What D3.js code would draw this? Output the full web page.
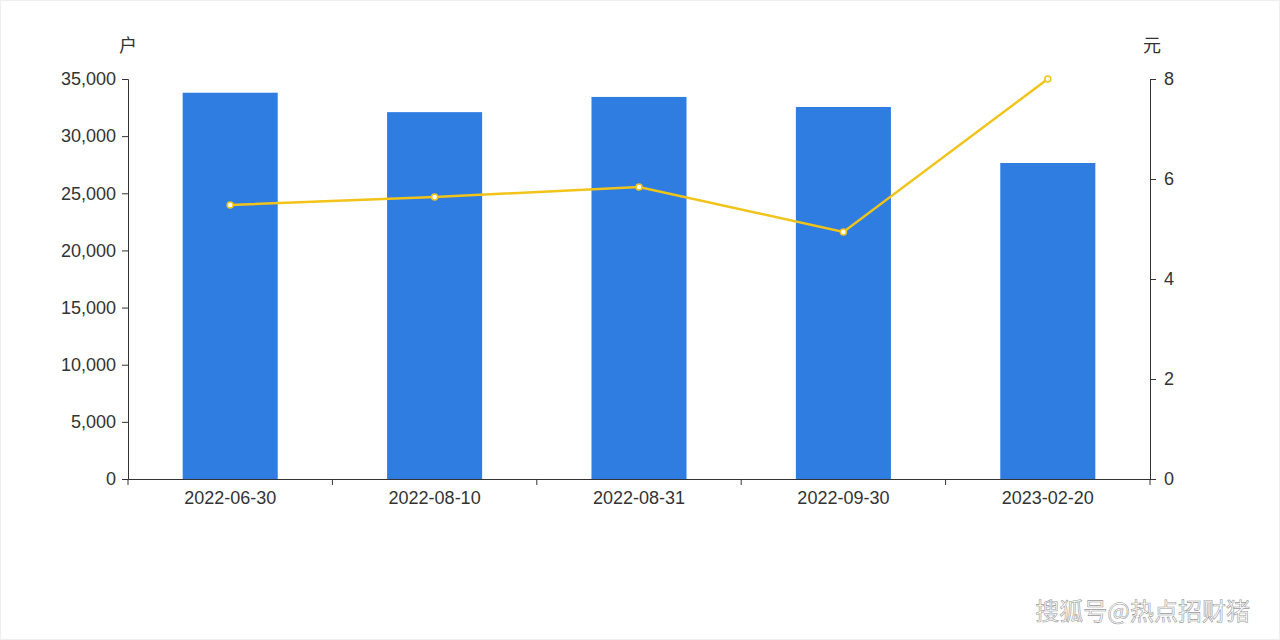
<!DOCTYPE html>
<html><head><meta charset="utf-8">
<script src="https://cdn.jsdelivr.net/npm/d3@7"></script>
<style>body{margin:0;background:#fff;font-family:"Noto Sans CJK SC","Noto Sans",sans-serif;}</style>
</head><body><svg id="c" width="1280" height="640"></svg>
<script>
var dates = ["2022-06-30", "2022-08-10", "2022-08-31", "2022-09-30", "2023-02-20"];
var holders = [33800, 32100, 33430, 32550, 27650];
var prices = [5.48, 5.64, 5.84, 4.94, 8.0];
var leftTicks = [0, 5000, 10000, 15000, 20000, 25000, 30000, 35000];
var rightTicks = [0, 2, 4, 6, 8];

var svg = d3.select("#c");
var plotLeft = 128, plotRight = 1150, plotTop = 79, plotBottom = 479;

svg.append("rect").attr("x", 0.5).attr("y", 0.5).attr("width", 1279).attr("height", 639)
  .attr("fill", "#fff").attr("stroke", "#eee");

var x = d3.scaleBand().domain(dates).range([plotLeft, plotRight]).paddingInner(0.535).paddingOuter(0.2675);
var yL = d3.scaleLinear().domain([0, 35000]).range([plotBottom, plotTop]);
var yR = d3.scaleLinear().domain([0, 8]).range([plotBottom, plotTop]);

var axisColor = "#333";
var gx = svg.append("g").attr("transform", "translate(0," + plotBottom + ")")
  .call(d3.axisBottom(x).tickSize(0).tickPadding(12));
gx.select(".domain").attr("stroke", axisColor);
gx.selectAll("text").attr("font-size", 18).attr("fill", "#333").attr("font-family", "Liberation Sans, Arial, sans-serif");
var bw = (plotRight - plotLeft) / dates.length;
gx.selectAll(".sep").data(d3.range(dates.length + 1)).enter().append("line")
  .attr("x1", function(i) { return plotLeft + i * bw; }).attr("x2", function(i) { return plotLeft + i * bw; })
  .attr("y1", 0).attr("y2", 6).attr("stroke", axisColor);

var gl = svg.append("g").attr("transform", "translate(" + plotLeft + ",0)")
  .call(d3.axisLeft(yL).tickValues(leftTicks).tickSize(6).tickPadding(6).tickFormat(d3.format(",")));
gl.selectAll("path,line").attr("stroke", axisColor);
gl.selectAll("text").attr("font-size", 18).attr("fill", "#333").attr("font-family", "Liberation Sans, Arial, sans-serif");

var gr = svg.append("g").attr("transform", "translate(" + plotRight + ",0)")
  .call(d3.axisRight(yR).tickValues(rightTicks).tickSize(6).tickPadding(8));
gr.selectAll("path,line").attr("stroke", axisColor);
gr.selectAll("text").attr("font-size", 18).attr("fill", "#333").attr("font-family", "Liberation Sans, Arial, sans-serif");

svg.append("text").attr("x", 128).attr("y", 52).attr("text-anchor", "middle").attr("font-size", 18).attr("fill", "#333").text("户");
svg.append("text").attr("x", 1152).attr("y", 52).attr("text-anchor", "middle").attr("font-size", 18).attr("fill", "#333").text("元");

svg.selectAll(".bar").data(holders).enter().append("rect")
  .attr("x", function(d, i) { return x(dates[i]); })
  .attr("y", function(d) { return yL(d); })
  .attr("width", x.bandwidth())
  .attr("height", function(d) { return plotBottom - yL(d); })
  .attr("fill", "#2f7de1");

var line = d3.line().x(function(d, i) { return x(dates[i]) + x.bandwidth() / 2; }).y(function(d) { return yR(d); });
svg.append("path").datum(prices).attr("d", line).attr("fill", "none").attr("stroke", "#f2c318").attr("stroke-width", 2.5);
svg.selectAll(".pt").data(prices).enter().append("circle")
  .attr("cx", function(d, i) { return x(dates[i]) + x.bandwidth() / 2; })
  .attr("cy", function(d) { return yR(d); })
  .attr("r", 3).attr("fill", "#fff").attr("stroke", "#f2c318").attr("stroke-width", 1.5);

svg.append("text").attr("x", 1250).attr("y", 620).attr("text-anchor", "end").attr("font-size", 24)
  .attr("fill", "#fff").attr("stroke", "#999").attr("stroke-width", 0.6).text("搜狐号@热点招财猪");
</script></body></html>
